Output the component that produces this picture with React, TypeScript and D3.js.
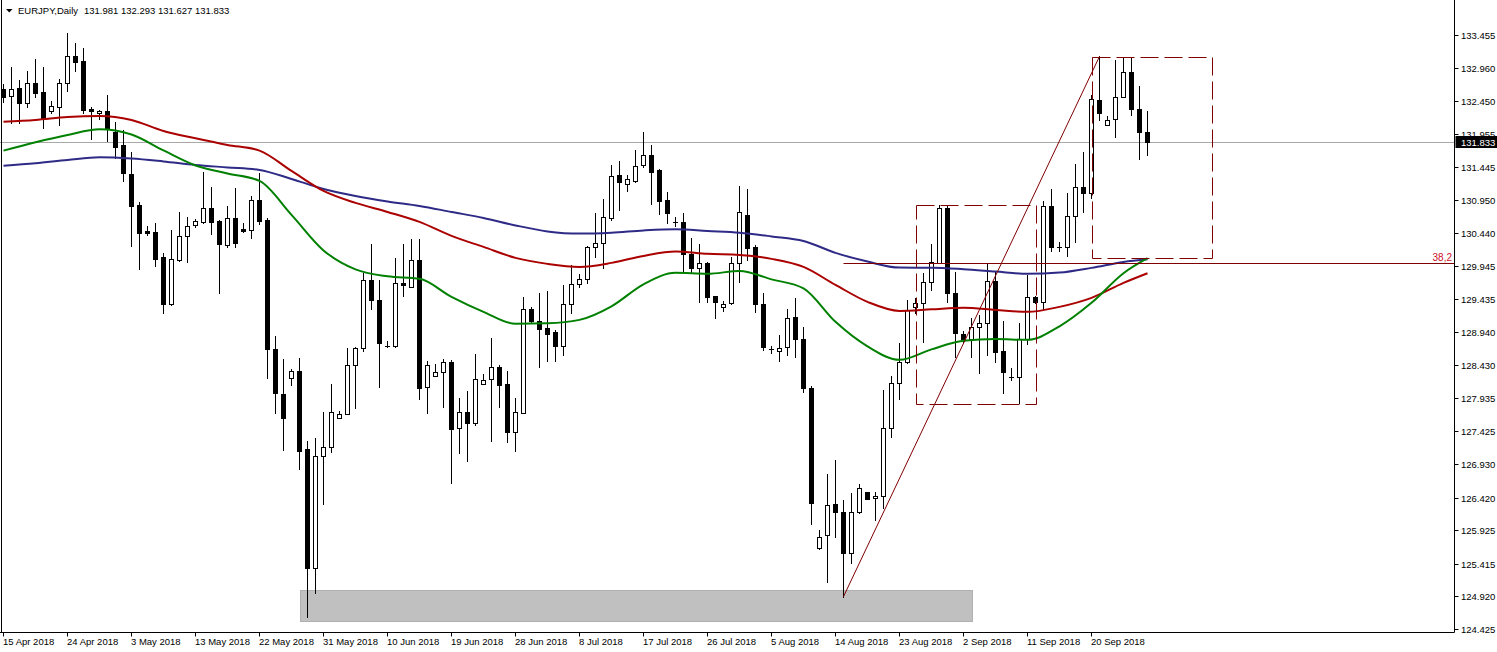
import React from "react";
import * as d3 from "d3";

const W = 1497;
const H = 652;

// Daily candles, EURJPY (bar index 0 = 15 Apr 2018)
const openP = [
  132.634, 132.528, 132.649, 132.421, 132.725, 132.589, 132.3, 132.36, 132.725, 133.136,
  133.06, 132.33, 132.269, 132.3, 131.981, 131.783, 131.342, 130.871, 130.476, 130.46,
  130.081, 129.366, 130.035, 130.4, 130.567, 130.613, 130.825, 130.628, 130.263, 130.673,
  130.506, 130.491, 130.947, 130.643, 128.682, 127.998, 128.241, 128.348, 127.162, 125.353,
  127.056, 127.193, 127.633, 127.694, 128.439, 128.697, 129.731, 129.427, 128.728, 128.728,
  129.685, 129.625, 130.035, 128.105, 128.272, 128.333, 128.485, 127.481, 127.725, 127.557,
  128.15, 128.226, 128.409, 128.15, 127.421, 127.709, 129.29, 129.108, 129.001, 128.941,
  128.728, 129.366, 129.67, 129.746, 130.233, 130.293, 130.673, 131.327, 131.19, 131.236,
  131.479, 131.631, 131.403, 130.947, 130.613, 130.613, 130.126, 129.913, 129.989, 129.488,
  129.321, 129.381, 129.989, 130.719, 130.233, 129.366, 128.682, 128.652, 128.713, 129.169,
  128.834, 128.089, 125.657, 125.855, 126.326, 126.205, 125.581, 126.205, 126.509, 126.417,
  126.448, 127.481, 128.165, 128.485, 129.321, 129.381, 129.701, 129.989, 130.825, 129.533,
  128.91, 128.834, 129.017, 129.077, 129.716, 128.652, 128.257, 128.257, 128.834, 129.473,
  129.397, 130.856, 130.233, 130.233, 130.704, 131.145, 131.053, 132.467, 132.087, 132.178,
  132.513, 132.893, 132.33, 131.981,
];
const highP = [
  132.71, 132.969, 132.771, 132.908, 133.09, 132.969, 132.452, 132.786, 133.485, 133.333,
  133.257, 132.36, 132.315, 132.543, 132.133, 132.011, 131.677, 130.917, 130.552, 130.597,
  130.141, 130.491, 130.765, 130.689, 130.658, 131.373, 131.145, 130.64, 130.856, 131.129,
  130.597, 131.008, 131.357, 130.673, 128.88, 128.53, 128.378, 128.545, 127.284, 127.329,
  127.725, 128.15, 127.74, 128.697, 128.713, 129.837, 130.278, 129.731, 128.804, 130.065,
  130.278, 130.354, 130.354, 128.5, 128.454, 128.53, 128.515, 127.937, 128.044, 128.606,
  128.302, 128.849, 128.439, 128.348, 127.937, 129.473, 129.321, 129.533, 129.564, 128.971,
  129.655, 129.959, 129.822, 130.24, 130.749, 130.962, 131.479, 131.54, 131.327, 131.707,
  131.981, 131.783, 131.41, 131.069, 130.689, 130.749, 130.369, 130.278, 130.005, 129.49,
  129.412, 130.081, 131.16, 131.114, 130.263, 129.533, 128.728, 128.895, 129.29, 129.457,
  129.017, 128.12, 125.931, 126.782, 126.995, 126.387, 126.493, 126.63, 126.51, 126.509,
  128.059, 128.272, 128.773, 129.427, 129.457, 129.837, 130.278, 130.871, 130.856, 129.853,
  128.956, 129.153, 129.199, 129.989, 129.853, 129.108, 128.393, 129.077, 129.807, 129.488,
  130.932, 131.114, 130.309, 131.053, 131.494, 131.677, 132.543, 133.13, 132.224, 133.075,
  133.121, 133.121, 132.68, 132.293,
];
const lowP = [
  132.437, 132.117, 132.117, 132.36, 132.513, 132.041, 132.269, 132.087, 132.604, 132.908,
  132.269, 131.874, 132.178, 131.844, 131.585, 131.236, 130.248, 129.898, 130.415, 129.944,
  129.229, 129.351, 130.02, 130.005, 130.537, 130.597, 130.43, 129.533, 130.233, 130.233,
  130.461, 130.369, 130.582, 128.241, 127.709, 127.147, 128.135, 126.858, 124.609, 124.973,
  126.326, 127.117, 127.633, 127.694, 127.785, 128.652, 129.29, 128.105, 128.713, 128.713,
  129.488, 129.615, 127.922, 127.709, 128.262, 127.801, 126.645, 127.101, 126.98, 127.527,
  128.14, 127.284, 127.801, 127.269, 127.132, 127.7, 129.093, 128.409, 128.5, 128.5,
  128.591, 129.229, 129.625, 129.685, 130.081, 129.913, 130.643, 130.795, 131.084, 131.221,
  131.449, 130.886, 130.734, 130.597, 130.552, 129.853, 129.853, 129.397, 129.397, 129.153,
  129.26, 129.366, 129.701, 130.035, 129.245, 128.667, 128.621, 128.5, 128.591, 128.561,
  128.029, 126.022, 125.642, 125.141, 125.825, 124.913, 125.429, 126.189, 126.395, 126.083,
  126.265, 127.345, 127.922, 128.47, 129.229, 128.789, 129.579, 129.985, 129.397, 128.561,
  128.789, 128.561, 128.317, 128.591, 128.485, 128.013, 128.211, 127.861, 128.758, 129.381,
  129.29, 130.172, 130.172, 130.096, 130.309, 130.765, 130.977, 132.163, 132.08, 131.905,
  132.505, 132.239, 131.57, 131.627,
];
const closeP = [
  132.513, 132.634, 132.421, 132.725, 132.573, 132.193, 132.376, 132.725, 133.136, 133.045,
  132.315, 132.3, 132.3, 132.041, 131.753, 131.357, 130.856, 130.445, 130.445, 130.05,
  129.366, 130.05, 130.4, 130.552, 130.628, 130.825, 130.613, 130.278, 130.673, 130.293,
  130.476, 130.947, 130.628, 128.682, 128.013, 127.633, 128.348, 127.132, 125.353, 127.056,
  127.193, 127.725, 127.694, 128.439, 128.697, 129.731, 129.427, 128.773, 128.72, 129.685,
  129.655, 130.035, 128.089, 128.439, 128.333, 128.485, 127.466, 127.725, 127.557, 128.226,
  128.211, 128.409, 128.135, 127.421, 127.725, 129.29, 129.108, 128.986, 128.91, 128.728,
  129.366, 129.67, 129.746, 130.233, 130.293, 130.689, 131.312, 131.221, 131.266, 131.464,
  131.631, 131.373, 130.932, 130.749, 130.605, 130.126, 129.913, 129.989, 129.473, 129.397,
  129.366, 129.989, 130.765, 130.217, 129.366, 128.713, 128.68, 128.697, 129.153, 128.834,
  128.089, 126.341, 125.825, 126.311, 126.205, 125.581, 126.205, 126.569, 126.402, 126.448,
  127.481, 128.165, 128.485, 129.275, 129.381, 129.701, 130.005, 130.825, 129.533, 128.925,
  128.834, 129.017, 129.077, 129.716, 128.637, 128.333, 128.25, 128.834, 129.473, 129.397,
  130.856, 130.233, 130.225, 130.704, 131.145, 131.053, 132.482, 132.269, 132.163, 132.513,
  132.893, 132.33, 131.981, 131.833,
];

// Moving averages, sampled at these bar indices
const maIdx = [
  0, 4, 8, 12, 16, 20, 24, 28, 32, 36, 40, 44, 48, 52, 56, 60, 64, 68, 72, 76,
  80, 84, 88, 92, 96, 100, 104, 108, 112, 116, 120, 124, 128, 132, 136, 140, 143,
];
const maGreen = [
  131.696, 131.824, 131.935, 132.021, 131.942, 131.699, 131.471, 131.349, 131.235, 130.719,
  130.179, 129.89, 129.784, 129.746, 129.472, 129.244, 129.062, 129.069, 129.122, 129.328,
  129.662, 129.837, 129.822, 129.867, 129.738, 129.601, 129.092, 128.719, 128.514, 128.674,
  128.803, 128.833, 128.818, 129.024, 129.381, 129.832, 130.06,
];
const maRed = [
  132.137, 132.163, 132.208, 132.224, 132.163, 131.996, 131.885, 131.783, 131.696, 131.387,
  131.083, 130.901, 130.764, 130.612, 130.399, 130.232, 130.065, 129.974, 129.928, 129.989,
  130.095, 130.161, 130.126, 130.11, 130.05, 129.928, 129.654, 129.396, 129.259, 129.282,
  129.305, 129.274, 129.244, 129.32, 129.457, 129.685, 129.832,
];
const maBlue = [
  131.468, 131.506, 131.555, 131.596, 131.577, 131.532, 131.479, 131.441, 131.403, 131.266,
  131.114, 131.007, 130.924, 130.855, 130.764, 130.673, 130.559, 130.468, 130.434, 130.449,
  130.483, 130.501, 130.475, 130.449, 130.392, 130.323, 130.141, 130.009, 129.917, 129.916,
  129.893, 129.857, 129.822, 129.841, 129.913, 130.004, 130.045,
];

const yTickLabels = [
  "133.455", "132.960", "132.450", "131.955", "131.445", "130.950", "130.440", "129.945",
  "129.435", "128.940", "128.430", "127.935", "127.425", "126.930", "126.420", "125.925",
  "125.415", "124.920", "124.425",
];
const xTickLabels = [
  "15 Apr 2018", "24 Apr 2018", "3 May 2018", "13 May 2018", "22 May 2018", "31 May 2018",
  "10 Jun 2018", "19 Jun 2018", "28 Jun 2018", "8 Jul 2018", "17 Jul 2018", "26 Jul 2018",
  "5 Aug 2018", "14 Aug 2018", "23 Aug 2018", "2 Sep 2018", "11 Sep 2018", "20 Sep 2018",
];
const barsPerLabel = 8;

const symbol = "EURJPY,Daily";
const lastPrice = 131.833;
const fibFrom = { i: 105, p: 124.913 };
const fibTo = { i: 137, p: 133.13 };
const fibRatio = 0.382;
const fibText = "38,2";
const grayZone = { i0: 37, i1: 121, p0: 124.547, p1: 125.018 };
const box1 = { i0: 114, i1: 129, p0: 127.84, p1: 130.871 };
const box2 = { i0: 136, i1: 151, p0: 130.065, p1: 133.121 };

const FONT = "'Liberation Sans', Arial, sans-serif";
const AXIS_X = 1454.5;
const AXIS_Y = 632.5;
const MAROON = "#7f0000";

export default function App() {
  const n = openP.length;
  const x = d3.scaleLinear().domain([0, n - 1]).range([3.5, 3.5 + 8 * (n - 1)]);
  const y = d3.scaleLinear().domain([124.425, 133.455]).range([628.7, 35]);
  const cr = (v: number) => Math.round(v) + 0.5;

  const maLine = (vals: number[]) =>
    d3
      .line<number>()
      .x((_, k) => x(maIdx[k]))
      .y((v) => y(v))
      .curve(d3.curveMonotoneX)(vals) || "";

  const fibLevel = fibTo.p - fibRatio * (fibTo.p - fibFrom.p);
  const yLast = y(lastPrice);

  const rectOf = (b: { i0: number; i1: number; p0: number; p1: number }) => ({
    x: cr(x(b.i0)),
    y: cr(y(b.p1)),
    w: Math.round(x(b.i1) - x(b.i0)),
    h: Math.round(y(b.p0) - y(b.p1)),
  });
  const g = rectOf(grayZone);
  const r1 = rectOf(box1);
  const r2 = rectOf(box2);

  return (
    <svg
      width={W}
      height={H}
      style={{ position: "absolute", left: 0, top: 0, background: "#fff" }}
      fontFamily={FONT}
    >
      <rect x={0} y={0} width={W} height={H} fill="#fff" />
      {/* support zone */}
      <rect x={g.x} y={g.y} width={g.w} height={g.h} fill="#c0c0c0" stroke="#b0b0b0" />
      {/* last price line */}
      <line x1={0} x2={AXIS_X} y1={cr(yLast)} y2={cr(yLast)} stroke="#a8a8a8" />

      {/* candles */}
      {openP.map((o, i) => {
        const c = closeP[i];
        const cx = x(i);
        const top = cr(y(Math.max(o, c)));
        const bot = cr(y(Math.min(o, c)));
        const bull = c >= o;
        return (
          <g key={i}>
            <line x1={cx} x2={cx} y1={Math.round(y(highP[i]))} y2={Math.round(y(lowP[i])) + 1} stroke="#000" />
            {bot - top < 1 ? (
              <line x1={cx - 2.5} x2={cx + 2.5} y1={top} y2={top} stroke="#000" />
            ) : (
              <rect x={cx - 2} y={top} width={4} height={bot - top} fill={bull ? "#fff" : "#000"} stroke="#000" />
            )}
          </g>
        );
      })}

      {/* moving averages */}
      <path d={maLine(maBlue)} fill="none" stroke="#2e2a86" strokeWidth={2} />
      <path d={maLine(maRed)} fill="none" stroke="#aa0000" strokeWidth={2} />
      <path d={maLine(maGreen)} fill="none" stroke="#008000" strokeWidth={2} />

      {/* fibonacci */}
      <line x1={x(fibFrom.i)} y1={y(fibFrom.p)} x2={x(fibTo.i)} y2={y(fibTo.p)} stroke={MAROON} />
      <line x1={x(fibFrom.i)} x2={AXIS_X} y1={cr(y(fibLevel))} y2={cr(y(fibLevel))} stroke={MAROON} />
      <text x={1452} y={cr(y(fibLevel)) - 3} textAnchor="end" fontSize={10} fill="#d0102a">
        {fibText}
      </text>

      {/* dashed boxes */}
      {[r1, r2].map((r, k) => (
        <rect key={k} x={r.x} y={r.y} width={r.w} height={r.h} fill="none" stroke={MAROON} strokeDasharray="18 6" />
      ))}

      {/* frame and axes */}
      <line x1={1.5} x2={1.5} y1={0} y2={AXIS_Y} stroke="#000" />
      <line x1={AXIS_X} x2={AXIS_X} y1={0} y2={AXIS_Y} stroke="#000" />
      <line x1={0} x2={AXIS_X} y1={AXIS_Y} y2={AXIS_Y} stroke="#000" />

      {yTickLabels.map((t) => {
        const yy = cr(y(+t));
        return (
          <g key={t}>
            <line x1={AXIS_X} x2={AXIS_X + 4} y1={yy} y2={yy} stroke="#000" />
            <text x={1461} y={yy + 3.5} fontSize={9.5} fill="#000">
              {t}
            </text>
          </g>
        );
      })}

      {/* last price label */}
      <rect x={AXIS_X + 1} y={cr(yLast) - 6.5} width={W - AXIS_X} height={12} fill="#000" />
      <text x={1461} y={cr(yLast) + 3.5} fontSize={9.5} fill="#fff">
        {lastPrice.toFixed(3)}
      </text>

      {xTickLabels.map((t, k) => {
        const xx = x(k * barsPerLabel);
        return (
          <g key={t}>
            <line x1={xx} x2={xx} y1={AXIS_Y} y2={AXIS_Y + 4} stroke="#000" />
            <text x={xx - 0.5} y={645} fontSize={9.5} fill="#000">
              {t}
            </text>
          </g>
        );
      })}

      {/* header */}
      <path d="M6,9 L12.5,9 L9.25,12.5 Z" fill="#000" />
      <text x={18} y={14} fontSize={9.5} fill="#000">
        {symbol}
      </text>
      <text x={84} y={14} fontSize={9.5} fill="#000">
        {[openP[n - 1], highP[n - 1], lowP[n - 1], closeP[n - 1]].map((v) => v.toFixed(3)).join(" ")}
      </text>
    </svg>
  );
}
